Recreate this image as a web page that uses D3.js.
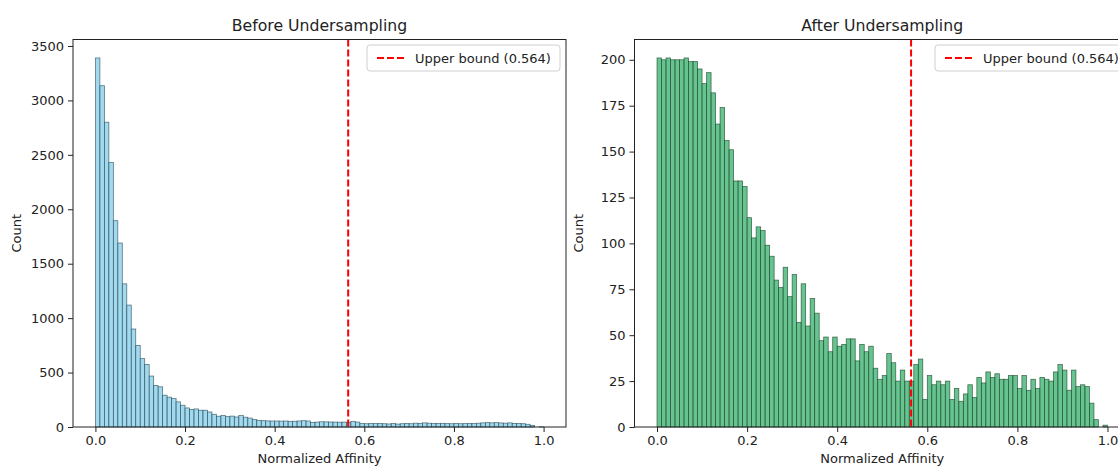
<!DOCTYPE html>
<html>
<head>
<meta charset="utf-8">
<script src="https://cdn.jsdelivr.net/npm/d3@7"></script>
<style>
  html, body { margin: 0; padding: 0; background: #fff; overflow: hidden; }
  svg { display: block; }
  text { font-family: "DejaVu Sans", sans-serif; fill: #222; }
</style>
</head>
<body>
<svg id="chart" width="1118" height="466"></svg>
<script>
// ---------- data ----------
const binWidth = 0.01;
const upperBound = 0.564;
const legendLabel = "Upper bound (0.564)";
const xLabel = "Normalized Affinity";
const yLabel = "Count";
const titles = ["Before Undersampling", "After Undersampling"];
const xTicks = [0.0, 0.2, 0.4, 0.6, 0.8, 1.0];
const yTicksBefore = [0, 500, 1000, 1500, 2000, 2500, 3000, 3500];
const yTicksAfter = [0, 25, 50, 75, 100, 125, 150, 175, 200];

const countsBefore = [
  3390, 3135, 2800, 2430, 1895, 1690, 1315, 1120, 900, 750,
  628, 575, 468, 382, 369, 292, 274, 262, 231, 200,
  175, 160, 166, 154, 154, 138, 117, 99, 105, 95,
  100, 92, 105, 90, 82, 70, 60, 58, 56, 55,
  55, 54, 55, 52, 53, 55, 58, 55, 42, 45,
  48, 47, 46, 45, 44, 45, 42, 50, 45, 32,
  30, 32, 31, 33, 30, 28, 32, 27, 30, 33,
  30, 35, 33, 38, 35, 33, 32, 34, 31, 30,
  32, 30, 31, 33, 32, 35, 38, 40, 38, 40,
  37, 35, 38, 33, 32, 30, 25, 15, 0, 2
];
const countsAfter = [
  201, 200, 201, 200, 200, 200, 201, 199, 199, 195,
  187, 193, 182, 165, 174, 156, 151, 134, 134, 131,
  114, 103, 109, 107, 99, 93, 80, 76, 87, 71,
  83, 57, 78, 55, 70, 62, 47, 49, 41, 49,
  44, 45, 48, 48, 36, 45, 41, 44, 32, 26,
  28, 40, 35, 25, 31, 25, 25, 34, 37, 15,
  28, 23, 25, 23, 25, 15, 21, 14, 18, 23,
  16, 27, 24, 30, 27, 29, 26, 26, 28, 28,
  21, 28, 20, 26, 21, 27, 26, 25, 30, 34,
  31, 20, 31, 22, 23, 22, 13, 4, 0, 1
];

// ---------- layout ----------
const svg = d3.select("#chart");
const panels = [
  { left: 73, width: 493, counts: countsBefore, yTicks: yTicksBefore, title: titles[0],
    fill: "#87ceeb", stroke: "#2f4f5c", legendLeft: 367 },
  { left: 634.5, width: 495.5, counts: countsAfter, yTicks: yTicksAfter, title: titles[1],
    fill: "#3cb371", stroke: "#1f4a2e", legendLeft: 935 }
];
const axTop = 39.5, axBottom = 427;

panels.forEach(p => {
  const axW = p.width;
  const g = svg.append("g");
  const x = d3.scaleLinear().domain([-0.05, 1.05]).range([p.left, p.left + axW]);
  const y = d3.scaleLinear().domain([0, d3.max(p.counts) * 1.05]).range([axBottom, axTop]);

  // bars
  g.append("g").selectAll("rect").data(p.counts).join("rect")
    .attr("x", (d, i) => x(i * binWidth))
    .attr("width", (d, i) => x((i + 1) * binWidth) - x(i * binWidth))
    .attr("y", d => y(d))
    .attr("height", d => axBottom - y(d))
    .attr("fill", p.fill).attr("fill-opacity", 0.78)
    .attr("stroke", p.stroke).attr("stroke-opacity", 0.8).attr("stroke-width", 0.75);

  // axes
  const xAxis = g.append("g").attr("transform", `translate(0,${axBottom})`)
    .call(d3.axisBottom(x).tickValues(xTicks).tickFormat(d3.format(".1f")).tickSize(5).tickPadding(4));
  const yAxis = g.append("g").attr("transform", `translate(${p.left},0)`)
    .call(d3.axisLeft(y).tickValues(p.yTicks).tickFormat(d3.format("d")).tickSize(5).tickPadding(4));
  [xAxis, yAxis].forEach(a => {
    a.select(".domain").remove();
    a.selectAll(".tick line").attr("stroke", "#222").attr("stroke-width", 1);
    a.selectAll(".tick text").attr("font-size", 13).attr("fill", "#222")
      .attr("font-family", "DejaVu Sans, sans-serif");
  });

  // upper bound line
  g.append("line")
    .attr("x1", x(upperBound)).attr("x2", x(upperBound))
    .attr("y1", axTop).attr("y2", axBottom)
    .attr("stroke", "#ff0000").attr("stroke-width", 2).attr("stroke-dasharray", "7,3");

  // frame
  g.append("rect").attr("x", p.left).attr("y", axTop).attr("width", axW).attr("height", axBottom - axTop)
    .attr("fill", "none").attr("stroke", "#222").attr("stroke-width", 1);

  // title
  g.append("text").attr("x", p.left + axW / 2).attr("y", 31).attr("text-anchor", "middle")
    .attr("font-size", 15.7).text(p.title);
  // x label
  g.append("text").attr("x", p.left + axW / 2).attr("y", 462.5).attr("text-anchor", "middle")
    .attr("font-size", 13).text(xLabel);
  // y label
  g.append("text").attr("transform", `translate(${p.left - 52},${(axTop + axBottom) / 2}) rotate(-90)`)
    .attr("text-anchor", "middle").attr("font-size", 13).text(yLabel);

  // legend
  const lx = p.legendLeft, ly = 45;
  const lg = g.append("g");
  lg.append("rect").attr("x", lx).attr("y", ly).attr("width", 193).attr("height", 26)
    .attr("rx", 3).attr("fill", "#fff").attr("fill-opacity", 0.85)
    .attr("stroke", "#d0d0d0").attr("stroke-width", 1);
  lg.append("line").attr("x1", lx + 10).attr("x2", lx + 38).attr("y1", ly + 13).attr("y2", ly + 13)
    .attr("stroke", "#ff0000").attr("stroke-width", 2).attr("stroke-dasharray", "7,3");
  lg.append("text").attr("x", lx + 48).attr("y", ly + 17.5).attr("font-size", 13).text(legendLabel);
});
</script>
</body>
</html>
